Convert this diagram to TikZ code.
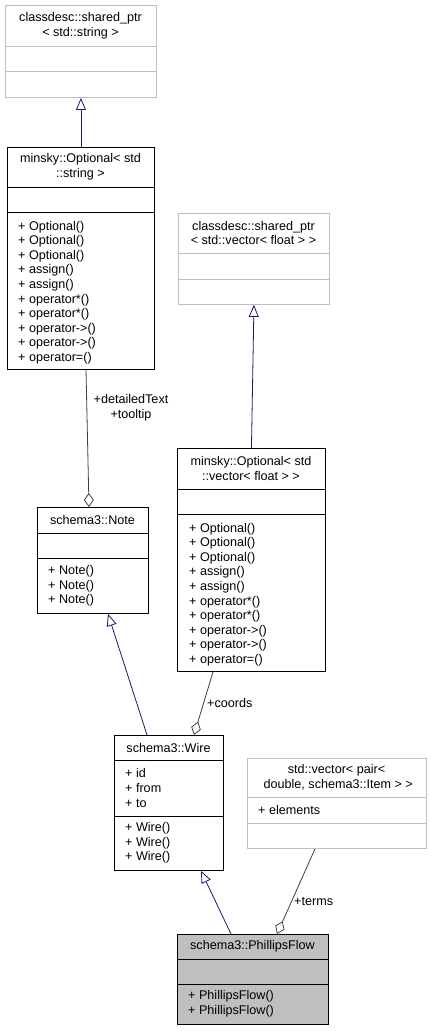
\documentclass[tikz,border=0pt]{standalone}
\usepackage{fontspec}
\setmainfont{Liberation Sans}
\usetikzlibrary{arrows.meta,calc}
\definecolor{inh}{HTML}{191970}
\definecolor{cmp}{HTML}{404040}
\definecolor{lgray}{HTML}{BFBFBF}
\begin{document}
\begin{tikzpicture}[x=1pt,y=-1pt,
  cls/.style={draw=black,line width=0.9pt,anchor=north west,inner sep=0pt,fill=white},
  clsg/.style={draw=lgray,line width=0.9pt,anchor=north west,inner sep=0pt,fill=white},
  clsf/.style={draw=black,line width=0.9pt,anchor=north west,inner sep=0pt,fill=lgray},
  txt/.style={inner sep=0pt,font=\fontsize{12.6}{14.6}\selectfont},
  ttl/.style={txt,align=center,anchor=center},
  mem/.style={txt,align=left,anchor=west},
  divk/.style={draw=black,line width=0.9pt},
  divg/.style={draw=lgray,line width=0.9pt},
  inhedge/.style={draw=inh,line width=0.8pt,-{Triangle[open,length=12pt,width=10pt,fill=white]}},
  cmpedge/.style={draw=cmp,line width=0.8pt,{Diamond[open,length=14pt,width=10pt,fill=white]}-},
  lbl/.style={txt,anchor=center}]
\useasboundingbox[fill=white] (0,0) rectangle (431,1031);

% b1
\node[clsg,minimum width=151pt,minimum height=92pt] (b1) at (5,5) {};
\draw[divg] (5,46) -- (156,46); \draw[divg] (5,71) -- (156,71);
\node[ttl] (b1t) at (80.5,25.5) {classdesc::shared\_ptr\\< std::string >};

% b2
\node[cls,minimum width=147pt,minimum height=222pt] (b2) at (7,147) {};
\draw[divk] (7,187) -- (154,187); \draw[divk] (7,212) -- (154,212);
\node[ttl] (b2t) at (80.5,167) {minsky::Optional< std\\::string >};
\node[mem] (b2m) at (18,292.5) {+ Optional()\\+ Optional()\\+ Optional()\\+ assign()\\+ assign()\\+ operator*()\\+ operator*()\\+ operator->()\\+ operator->()\\+ operator=()};

% b3
\node[clsg,minimum width=151pt,minimum height=91pt] (b3) at (178,213) {};
\draw[divg] (178,253) -- (329,253); \draw[divg] (178,279) -- (329,279);
\node[ttl] (b3t) at (253.5,233) {classdesc::shared\_ptr\\< std::vector< float > >};

% b4
\node[cls,minimum width=148pt,minimum height=223pt] (b4) at (177,448) {};
\draw[divk] (177,489) -- (325,489); \draw[divk] (177,514) -- (325,514);
\node[ttl] (b4t) at (251,468.5) {minsky::Optional< std\\::vector< float > >};
\node[mem] (b4m) at (189,594.5) {+ Optional()\\+ Optional()\\+ Optional()\\+ assign()\\+ assign()\\+ operator*()\\+ operator*()\\+ operator->()\\+ operator->()\\+ operator=()};

% b5
\node[cls,minimum width=111pt,minimum height=106pt] (b5) at (37,507) {};
\draw[divk] (37,533) -- (148,533); \draw[divk] (37,558) -- (148,558);
\node[ttl] (b5t) at (92.5,520) {schema3::Note};
\node[mem] (b5m) at (48,586) {+ Note()\\+ Note()\\+ Note()};

% b6
\node[cls,minimum width=109pt,minimum height=135pt] (b6) at (114,735) {};
\draw[divk] (114,760) -- (223,760); \draw[divk] (114,816) -- (223,816);
\node[ttl] (b6t) at (168.5,747.5) {schema3::Wire};
\node[mem] (b6a) at (125,788) {+ id\\+ from\\+ to};
\node[mem] (b6m) at (125,843) {+ Wire()\\+ Wire()\\+ Wire()};

% b7
\node[clsg,minimum width=179pt,minimum height=90pt] (b7) at (247,758) {};
\draw[divg] (247,797) -- (426,797); \draw[divg] (247,823) -- (426,823);
\node[ttl] (b7t) at (336.5,777.5) {std::vector< pair<\\\ double, schema3::Item > >};
\node[mem] (b7a) at (258,810) {+ elements};

% b8
\node[clsf,minimum width=151pt,minimum height=90pt] (b8) at (177,934) {};
\draw[divk] (177,959) -- (328,959); \draw[divk] (177,984) -- (328,984);
\node[ttl] (b8t) at (252.5,946.5) {schema3::PhillipsFlow};
\node[mem] (b8m) at (188,1004) {+ PhillipsFlow()\\+ PhillipsFlow()};

% inheritance edges
\draw[inhedge] (b2.north) -- (b1.south);
\draw[inhedge] (b4.north) -- (b3.south);
\draw[inhedge] ($(b6.north west)+(33,0)$) -- ($(b5.south west)+(71,0)$);
\draw[inhedge] ($(b8.north west)+(54,0)$) -- ($(b6.south west)+(87,0)$);

% composition edges
\draw[cmpedge] ($(b5.north west)+(52,0)$) -- ($(b2.south west)+(79,0)$);
\draw[cmpedge] ($(b6.north west)+(80,0)$) -- ($(b4.south west)+(36,0)$);
\draw[cmpedge] ($(b8.north west)+(100,0)$) -- ($(b7.south west)+(68,0)$);

% labels
\node[lbl,align=center] (l1) at (131,408) {+detailedText\\+tooltip};
\node[txt,anchor=west] (l2) at (207,703) {+coords};
\node[txt,anchor=west] (l3) at (294,901) {+terms};
\end{tikzpicture}
\end{document}
